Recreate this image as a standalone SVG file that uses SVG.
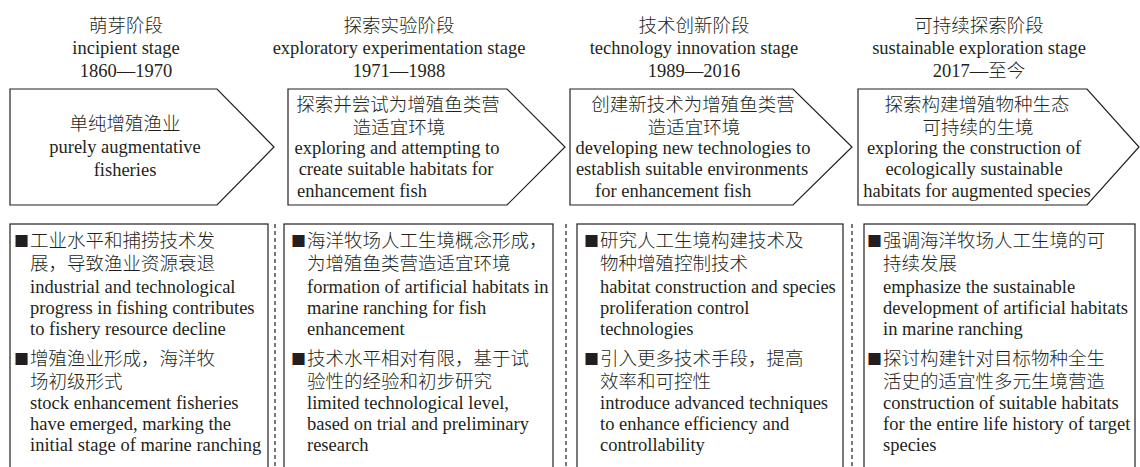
<svg xmlns="http://www.w3.org/2000/svg" width="1140" height="467" viewBox="0 0 1140 467">
<style>
text{font-family:"Liberation Serif","Noto Sans CJK SC",serif;font-size:18.5px;fill:#231f20;font-weight:300}
.m{text-anchor:middle}
.b{font-family:"Noto Sans CJK SC",sans-serif;font-size:15px;text-anchor:end;font-weight:400}
.shape{fill:#fff;stroke:#231f20;stroke-width:1.2}
.div{stroke:#231f20;stroke-width:1.2;stroke-dasharray:4 3;fill:none}
</style>
<rect width="1140" height="467" fill="#fff"/>
<g id="header-1"><text x="126" y="32" class="m">萌芽阶段</text><text x="126" y="54" class="m">incipient stage</text><text x="126" y="77" class="m">1860—1970</text></g>
<g id="header-2"><text x="399" y="32" class="m">探索实验阶段</text><text x="399" y="54" class="m">exploratory experimentation stage</text><text x="399" y="77" class="m">1971—1988</text></g>
<g id="header-3"><text x="694" y="32" class="m">技术创新阶段</text><text x="694" y="54" class="m">technology innovation stage</text><text x="694" y="77" class="m">1989—2016</text></g>
<g id="header-4"><text x="979" y="32" class="m">可持续探索阶段</text><text x="979" y="54" class="m">sustainable exploration stage</text><text x="979" y="77" class="m">2017—至今</text></g>

<g id="arrow-1"><polygon class="shape" points="10,89 217,89 274,147 217,205 10,205"/>
<text x="125" y="130" class="m">单纯增殖渔业</text><text x="125" y="153" class="m">purely augmentative</text><text x="125" y="176" class="m">fisheries</text></g>
<g id="arrow-2"><polygon class="shape" points="288,89 507,89 565,147 507,205 288,205"/>
<text x="398" y="111" class="m">探索并尝试为增殖鱼类营</text><text x="399" y="134" class="m">造适宜环境</text><text x="397" y="154" class="m">exploring and attempting to</text><text x="396" y="175" class="m">create suitable habitats for</text><text x="297" y="197">enhancement fish</text></g>
<g id="arrow-3"><polygon class="shape" points="570,89 793,89 852,147 793,205 570,205"/>
<text x="693" y="111" class="m">创建新技术为增殖鱼类营</text><text x="694" y="134" class="m">造适宜环境</text><text x="693" y="154" class="m">developing new technologies to</text><text x="692" y="175" class="m">establish suitable environments</text><text x="595" y="197">for enhancement fish</text></g>
<g id="arrow-4"><polygon class="shape" points="858,89 1087,89 1139,147 1087,205 858,205"/>
<text x="977" y="111" class="m">探索构建增殖物种生态</text><text x="978" y="134" class="m">可持续的生境</text><text x="974" y="154" class="m">exploring the construction of</text><text x="974" y="175" class="m">ecologically sustainable</text><text x="977" y="197" class="m">habitats for augmented species</text></g>

<g id="box-1"><rect class="shape" x="10" y="224" width="258" height="260"/>
<text x="29" y="247" class="b">■</text><text x="30" y="247">工业水平和捕捞技术发</text>
<text x="30" y="270">展，导致渔业资源衰退</text>
<text x="30" y="293">industrial and technological</text>
<text x="30" y="314">progress in fishing contributes</text>
<text x="30" y="335">to fishery resource decline</text>
<text x="29" y="365" class="b">■</text><text x="30" y="365">增殖渔业形成，海洋牧</text>
<text x="30" y="388">场初级形式</text>
<text x="30" y="409">stock enhancement fisheries</text>
<text x="30" y="430">have emerged, marking the</text>
<text x="30" y="451">initial stage of marine ranching</text></g>

<g id="box-2"><rect class="shape" x="284" y="224" width="269" height="260"/>
<text x="306" y="247" class="b">■</text><text x="307" y="247">海洋牧场人工生境概念形成，</text>
<text x="307" y="270">为增殖鱼类营造适宜环境</text>
<text x="307" y="293">formation of artificial habitats in</text>
<text x="307" y="314">marine ranching for fish</text>
<text x="307" y="335">enhancement</text>
<text x="306" y="365" class="b">■</text><text x="307" y="365">技术水平相对有限，基于试</text>
<text x="307" y="388">验性的经验和初步研究</text>
<text x="307" y="409">limited technological level,</text>
<text x="307" y="430">based on trial and preliminary</text>
<text x="307" y="451">research</text></g>

<g id="box-3"><rect class="shape" x="577" y="224" width="266" height="260"/>
<text x="599" y="247" class="b">■</text><text x="600" y="247">研究人工生境构建技术及</text>
<text x="600" y="270">物种增殖控制技术</text>
<text x="600" y="293">habitat construction and species</text>
<text x="600" y="314">proliferation control</text>
<text x="600" y="335">technologies</text>
<text x="599" y="365" class="b">■</text><text x="600" y="365">引入更多技术手段，提高</text>
<text x="600" y="388">效率和可控性</text>
<text x="600" y="409">introduce advanced techniques</text>
<text x="600" y="430">to enhance efficiency and</text>
<text x="600" y="451">controllability</text></g>

<g id="box-4"><rect class="shape" x="864" y="224" width="271" height="260"/>
<text x="882" y="247" class="b">■</text><text x="883" y="247">强调海洋牧场人工生境的可</text>
<text x="883" y="270">持续发展</text>
<text x="883" y="293">emphasize the sustainable</text>
<text x="883" y="314">development of artificial habitats</text>
<text x="883" y="335">in marine ranching</text>
<text x="882" y="365" class="b">■</text><text x="883" y="365">探讨构建针对目标物种全生</text>
<text x="883" y="388">活史的适宜性多元生境营造</text>
<text x="883" y="409">construction of suitable habitats</text>
<text x="883" y="430">for the entire life history of target</text>
<text x="883" y="451">species</text></g>

<g id="connectors">
<line class="div" x1="275" y1="224" x2="275" y2="467"/>
<line class="div" x1="566" y1="224" x2="566" y2="467"/>
<line class="div" x1="852" y1="224" x2="852" y2="467"/>
</g>
</svg>
